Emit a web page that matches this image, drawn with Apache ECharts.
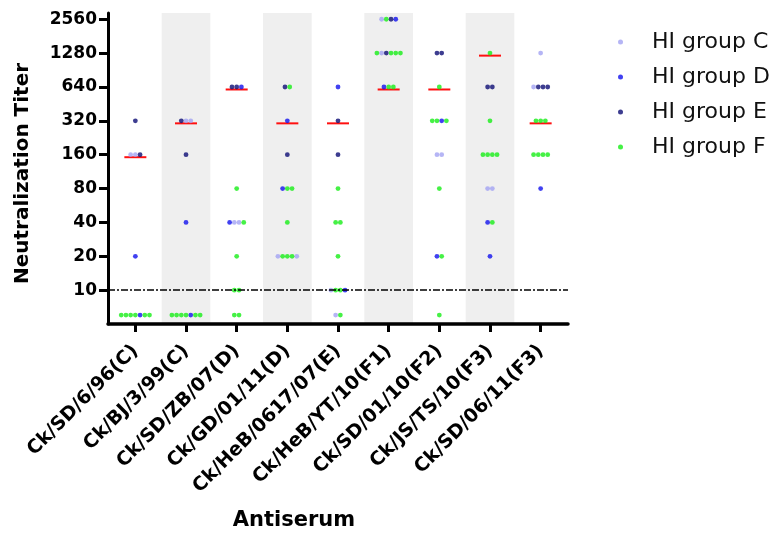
<!DOCTYPE html>
<html>
<head>
<meta charset="utf-8">
<script src="https://cdn.jsdelivr.net/npm/echarts@6/dist/echarts.min.js"></script>
<style>
html,body{margin:0;padding:0;background:#fff;}
#chart{width:776px;height:536px;}
</style>
</head>
<body>
<div id="chart"></div>
<script>
// ---- data ----
const categories = ['Ck/SD/6/96(C)', 'Ck/BJ/3/99(C)', 'Ck/SD/ZB/07(D)', 'Ck/GD/01/11(D)',
  'Ck/HeB/0617/07(E)', 'Ck/HeB/YT/10(F1)', 'Ck/SD/01/10(F2)', 'Ck/JS/TS/10(F3)', 'Ck/SD/06/11(F3)'];
const groupNames = ['HI group C', 'HI group D', 'HI group E', 'HI group F'];
const groupKeys = ['C', 'D', 'E', 'F'];
const yTicks = [10, 20, 40, 80, 160, 320, 640, 1280, 2560];
const ND = 6;           // "<10" (below detection limit) plotted value
const detectionLimit = 10;
// each row: [titer, groups of the dots in that row, left to right]
const colSD696  = [[320, 'E'], [160, 'CCE'], [20, 'D'], [ND, 'FFFFDFF']];
const colBJ399  = [[320, 'ECC'], [160, 'E'], [40, 'D'], [ND, 'FFFFDFF']];
const colSDZB07 = [[640, 'EED'], [80, 'F'], [40, 'DCCF'], [20, 'F'], [10, 'FF'], [ND, 'FF']];
const colGD0111 = [[640, 'EF'], [320, 'D'], [160, 'E'], [80, 'DFF'], [40, 'F'], [20, 'CFFFC']];
const colHeB0617 = [[640, 'D'], [320, 'E'], [160, 'E'], [80, 'F'], [40, 'FF'], [20, 'F'], [10, 'CFFD'], [ND, 'CF']];
const colHeBYT10 = [[2560, 'CFED'], [1280, 'FCEFFF'], [640, 'DFF']];
const colSD0110 = [[1280, 'EE'], [640, 'F'], [320, 'FFDF'], [160, 'CC'], [80, 'F'], [20, 'DF'], [ND, 'F']];
const colJSTS10 = [[1280, 'F'], [640, 'EE'], [320, 'F'], [160, 'FFFF'], [80, 'CC'], [40, 'DF'], [20, 'D']];
const colSD0611 = [[1280, 'C'], [640, 'CEEE'], [320, 'FFF'], [160, 'FFFF'], [80, 'D']];
const homologousTiters = [160, 320, 640, 320, 320, 640, 640, 1280, 320];

// ---- build series ----
const columns = [colSD696, colBJ399, colSDZB07, colGD0111, colHeB0617, colHeBYT10, colSD0110, colJSTS10, colSD0611];
const STEP = 0.093; // horizontal spread of dots sharing a row (axis units)
const groupData = groupKeys.map(() => []);
columns.forEach((col, ci) => {
  col.forEach(([titer, seq]) => {
    const n = seq.length;
    seq.split('').forEach((g, k) => {
      groupData[groupKeys.indexOf(g)].push([ci + (k - (n - 1) / 2) * STEP, titer]);
    });
  });
});
const groupColors = ['#a2a2f2', '#1212ee', '#0c0c74', '#16ee16'];
const bandCols = [1, 3, 5, 7];
const yMin = 5, yMax = 2560 * Math.pow(2, 0.185);

const chart = echarts.init(document.getElementById('chart'), null, {renderer: 'canvas'});
const FONT = 'DejaVu Sans';
const series = [
  {
    type: 'scatter', name: '_bands', data: [], silent: true, z: 0,
    markArea: {
      silent: true,
      itemStyle: {color: '#efefef'},
      data: bandCols.map(i => [{xAxis: i - 0.48, yAxis: yMin}, {xAxis: i + 0.48, yAxis: yMax}])
    },
    markLine: {
      silent: true, symbol: 'none', label: {show: false},
      lineStyle: {color: '#000', width: 1.6, type: [7, 2, 2, 2]},
      data: [{yAxis: detectionLimit}]
    }
  },
  {
    type: 'custom', name: '_median', z: 1, silent: true,
    data: homologousTiters.map((v, i) => [i, v]),
    renderItem: (params, api) => {
      const p = api.coord([api.value(0), api.value(1)]);
      return {type: 'line', shape: {x1: p[0] - 11, y1: p[1] + 2.5, x2: p[0] + 11, y2: p[1] + 2.5},
        style: {stroke: '#ff1010', lineWidth: 2}};
    }
  }
];
groupNames.forEach((name, gi) => {
  series.push({
    type: 'scatter', name: name, z: 3, data: groupData[gi],
    symbol: 'circle', symbolSize: 4.8,
    itemStyle: {color: groupColors[gi]}
  });
});

chart.setOption({
  animation: false,
  backgroundColor: '#fff',
  grid: {left: 108, right: 208, top: 13, bottom: 212, containLabel: false},
  legend: {
    data: groupNames, orient: 'vertical', left: 613, top: 26,
    icon: 'circle', itemWidth: 5, itemHeight: 5, itemGap: 13,
    textStyle: {fontFamily: FONT, fontSize: 22, color: '#111', lineHeight: 22, padding: [0, 0, 0, 24]}
  },
  xAxis: {
    type: 'value', min: -0.54, max: 8.54, z: 10,
    name: 'Antiserum', nameLocation: 'middle', nameGap: 186,
    nameTextStyle: {fontFamily: FONT, fontWeight: 'bold', fontSize: 21, color: '#000', padding: [0, 88, 0, 0]},
    axisLine: {show: true, onZero: false, lineStyle: {color: '#000', width: 3.5}},
    axisTick: {show: true, length: 8, lineStyle: {color: '#000', width: 3}, customValues: [0, 1, 2, 3, 4, 5, 6, 7, 8]},
    axisLabel: {
      customValues: [0, 1, 2, 3, 4, 5, 6, 7, 8], rotate: 45, margin: 24,
      fontFamily: FONT, fontWeight: 'bold', fontSize: 19, color: '#000',
      formatter: v => categories[Math.round(v)]
    },
    splitLine: {show: false}
  },
  yAxis: {
    type: 'log', logBase: 2, min: yMin, max: yMax, z: 10,
    name: 'Neutralization Titer', nameLocation: 'middle', nameGap: 75, nameRotate: 90,
    nameTextStyle: {fontFamily: FONT, fontWeight: 'bold', fontSize: 20, color: '#000', padding: [0, 10, 0, 0]},
    axisLine: {show: true, onZero: false, lineStyle: {color: '#000', width: 3}},
    axisTick: {show: true, length: 9, lineStyle: {color: '#000', width: 3}, customValues: yTicks},
    axisLabel: {
      customValues: yTicks, margin: 11,
      fontFamily: FONT, fontWeight: 'bold', fontSize: 17, color: '#000',
      formatter: v => String(Math.round(v))
    },
    splitLine: {show: false},
    minorTick: {show: false}
  },
  series: series
});
</script>
</body>
</html>
